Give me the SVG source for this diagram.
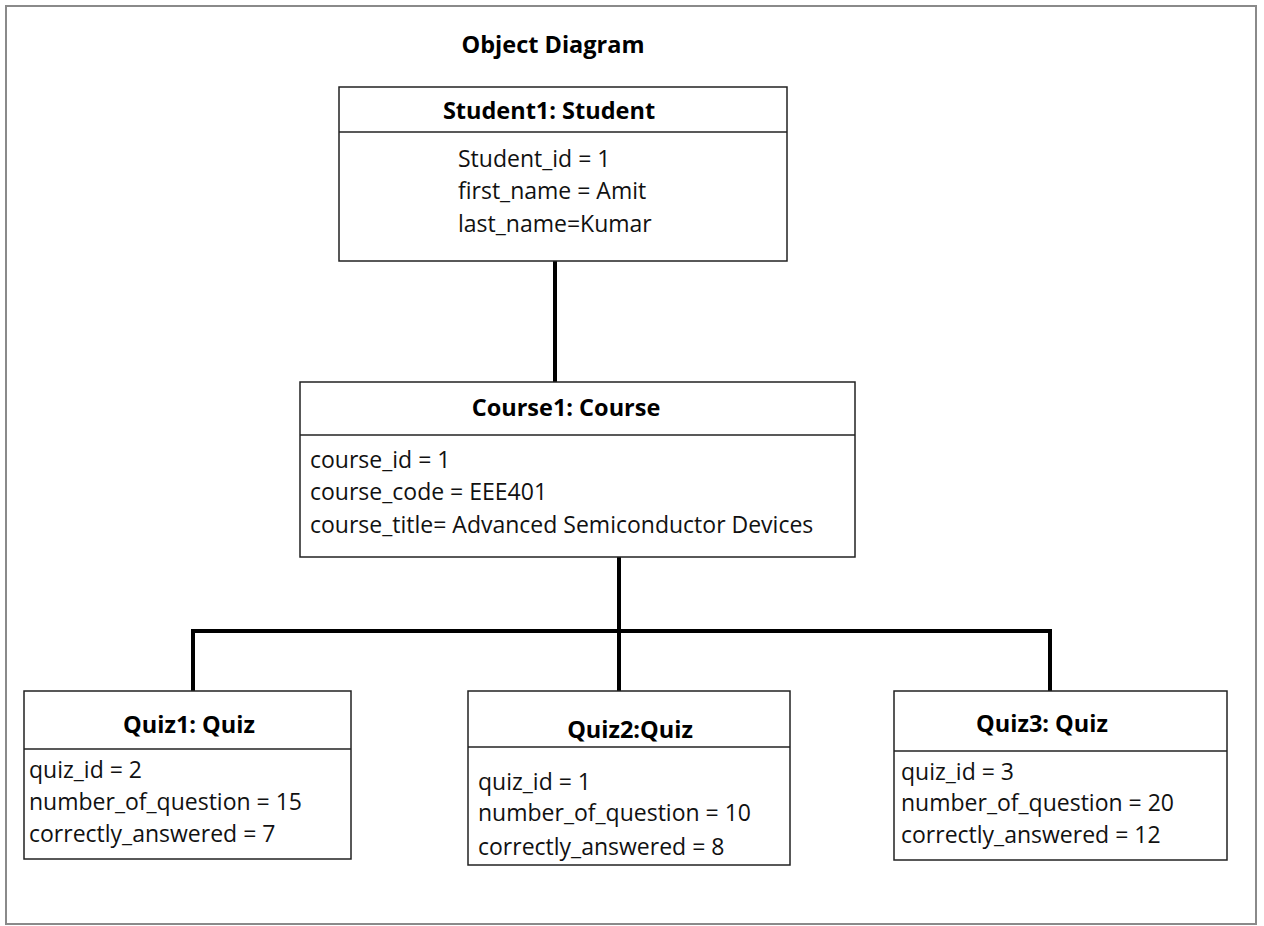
<svg xmlns="http://www.w3.org/2000/svg" width="1264" height="926" viewBox="0 0 1264 926">
  <style>
    .frame { fill: #ffffff; stroke: #8a8a8a; stroke-width: 2; }
    .box { fill: #ffffff; stroke: #222222; stroke-width: 1.5; }
    .sep { stroke: #222222; stroke-width: 1.5; }
    .link { fill: none; stroke: #000000; stroke-width: 4; }
    .title { font-family: "Open Sans", "Noto Sans", sans-serif; font-weight: bold; font-size: 23.5px; fill: #000000; text-anchor: middle; }
    .attr { font-family: "Open Sans", "Noto Sans", sans-serif; font-size: 23px; fill: #111111; }
  </style>

  <rect class="frame" x="6" y="6" width="1250" height="918"/>
  <text id="diagram-title" class="title" x="553" y="53">Object Diagram</text>

  <g id="connectors">
    <line class="link" x1="555" y1="261" x2="555" y2="382"/>
    <line class="link" x1="619" y1="557" x2="619" y2="631"/>
    <polyline class="link" points="193,691 193,631 1050,631 1050,691"/>
    <line class="link" x1="619" y1="631" x2="619" y2="691"/>
  </g>

  <g id="student1">
    <rect class="box" x="339" y="87" width="448" height="174"/>
    <line class="sep" x1="339" y1="132" x2="787" y2="132"/>
    <text class="title" x="549" y="119">Student1: Student</text>
    <text class="attr" x="458" y="167">Student_id = 1</text>
    <text class="attr" x="458" y="199">first_name = Amit</text>
    <text class="attr" x="458" y="232">last_name=Kumar</text>
  </g>

  <g id="course1">
    <rect class="box" x="300" y="382" width="555" height="175"/>
    <line class="sep" x1="300" y1="435" x2="855" y2="435"/>
    <text class="title" x="566" y="416">Course1: Course</text>
    <text class="attr" x="310" y="468">course_id = 1</text>
    <text class="attr" x="310" y="500">course_code = EEE401</text>
    <text class="attr" x="310" y="533">course_title= Advanced Semiconductor Devices</text>
  </g>

  <g id="quiz1">
    <rect class="box" x="24" y="691" width="327" height="168"/>
    <line class="sep" x1="24" y1="749" x2="351" y2="749"/>
    <text class="title" x="189" y="733">Quiz1: Quiz</text>
    <text class="attr" x="29" y="778">quiz_id = 2</text>
    <text class="attr" x="29" y="810">number_of_question = 15</text>
    <text class="attr" x="29" y="842">correctly_answered = 7</text>
  </g>

  <g id="quiz2">
    <rect class="box" x="468" y="691" width="322" height="174"/>
    <line class="sep" x1="468" y1="747" x2="790" y2="747"/>
    <text class="title" x="630" y="738">Quiz2:Quiz</text>
    <text class="attr" x="478" y="790">quiz_id = 1</text>
    <text class="attr" x="478" y="821">number_of_question = 10</text>
    <text class="attr" x="478" y="855">correctly_answered = 8</text>
  </g>

  <g id="quiz3">
    <rect class="box" x="894" y="691" width="333" height="169"/>
    <line class="sep" x1="894" y1="751" x2="1227" y2="751"/>
    <text class="title" x="1042" y="732">Quiz3: Quiz</text>
    <text class="attr" x="901" y="780">quiz_id = 3</text>
    <text class="attr" x="901" y="811">number_of_question = 20</text>
    <text class="attr" x="901" y="843">correctly_answered = 12</text>
  </g>
</svg>
